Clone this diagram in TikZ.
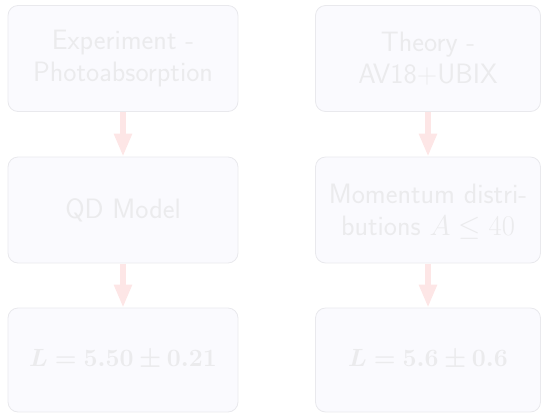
\documentclass[tikz,border=0pt]{standalone}
\usepackage{fontspec}
\usepackage{bm}
\usetikzlibrary{arrows.meta}
\definecolor{boxfill}{HTML}{FAFAFE}
\definecolor{boxline}{HTML}{E9E9ED}
\definecolor{boxtext}{HTML}{EBEBED}
\definecolor{flow}{HTML}{FDE6E6}
\tikzset{
  stage/.style={draw=boxline, line width=0.8pt, fill=boxfill, rounded corners=10pt,
    minimum height=106pt, align=center, text=boxtext, inner sep=0pt,
    font=\sffamily\fontsize{28}{32}\selectfont},
  result/.style={stage, minimum height=104pt, font=\fontsize{26}{32}\selectfont},
  flowarrow/.style={draw=flow, line width=5.5pt,
    -{Triangle[length=23pt,width=17pt]}, shorten <=0.5pt}
}
\begin{document}
\begin{tikzpicture}[x=1pt,y=-1pt]
\useasboundingbox (0,0) rectangle (541,413);
\node[stage, minimum width=230pt] (exp) at (123,58.5) {Experiment -\\Photoabsorption};
\node[stage, minimum width=225pt] (thy) at (428,58.5) {Theory -\\AV18+UBIX};
\node[stage, minimum width=230pt] (qd) at (123,210) {QD Model};
\node[stage, minimum width=225pt] (mom) at (428,210) {Momentum distri-\\butions \smash{\scalebox{1.15}{$A\le 40$}}};
\node[result, minimum width=230pt] (resl) at (123,360) {$\bm{L = 5.50 \pm 0.21}$};
\node[result, minimum width=225pt] (resr) at (428,360) {$\bm{L = 5.6 \pm 0.6}$};
\draw[flowarrow] (exp) -- (qd);
\draw[flowarrow] (thy) -- (mom);
\draw[flowarrow] (qd) -- (resl);
\draw[flowarrow] (mom) -- (resr);
\end{tikzpicture}
\end{document}
